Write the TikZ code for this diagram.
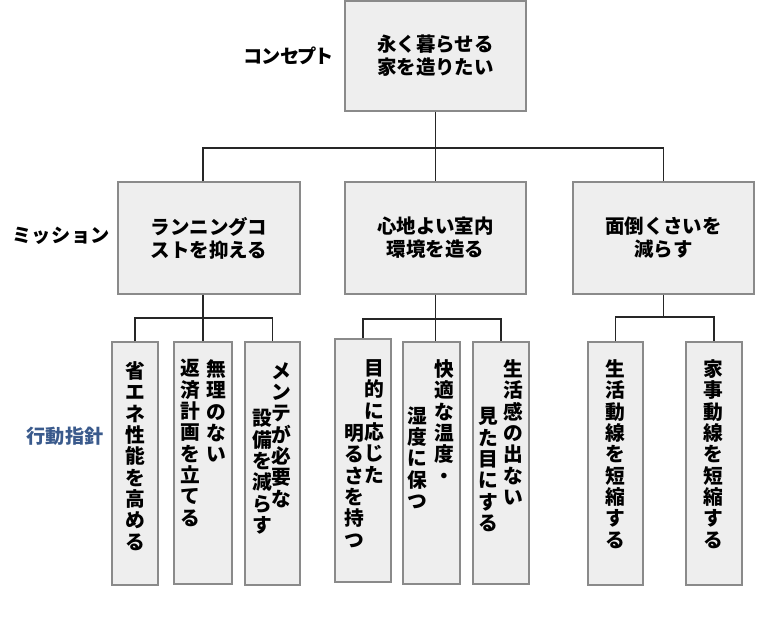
\documentclass[tikz,border=0pt]{standalone}
\usepackage{fontspec}
\setmainfont{Noto Sans CJK JP}
\definecolor{boxfill}{HTML}{EEEEEE}
\definecolor{boxline}{HTML}{8A8A8A}
\definecolor{connline}{HTML}{262626}
\definecolor{guideblue}{HTML}{3A5A8C}

% one vertical column of text, one character per row
\ExplSyntaxOn
\NewDocumentCommand\tatecol{m}{
  \vbox{\baselineskip=16pt \lineskiplimit=-20pt
    \tl_map_inline:nn {#1} {\hbox to 1em{\hss ##1\hss}}}
}
\ExplSyntaxOff

\tikzset{every picture/.style={line width=0.75pt}}
\tikzset{
  box/.style 2 args={draw=boxline, fill=boxfill, line width=1.1pt, inner sep=0pt,
    minimum width=#1*0.75pt, minimum height=#2*0.75pt, align=center,
    font=\bfseries\fontsize{14.6pt}{17.25pt}\selectfont},
  conn/.style={draw=connline, line width=1.1pt},
  tate/.style={anchor=north, inner sep=0pt, font=\bfseries\fontsize{14.8pt}{17pt}\selectfont},
  lvl/.style={inner sep=0pt, font=\bfseries\fontsize{14.4pt}{17pt}\selectfont\addfontfeatures{RawFeature=+palt}}
}

\begin{document}
\begin{tikzpicture}[x=0.75pt,y=0.75pt,yscale=-1,xscale=1]
\useasboundingbox (0,0) rectangle (779,642);

%Concept
\node [box={181}{110}] (top) at (435.5,56) {永く暮らせる\\家を造りたい};

%Missions
\node [box={182}{112}] (m1) at (209,238) {ランニングコ\\ストを抑える};
\node [box={181}{112}] (m2) at (435.5,238) {心地よい室内\\環境を造る};
\node [box={181}{112}] (m3) at (663.5,238) {面倒くさいを\\減らす};

%Action boxes
\node [box={46}{243}] (a1) at (135,463.5) {};
\node [box={58}{242}] (a2) at (203,463) {};
\node [box={55}{243}] (a3) at (272.5,463.5) {};
\node [box={56}{243}] (a4) at (363,460.5) {};
\node [box={57}{242}] (a5) at (431.5,463) {};
\node [box={56}{242}] (a6) at (501,463) {};
\node [box={55}{243}] (a7) at (615.5,463.5) {};
\node [box={56}{243}] (a8) at (714,463.5) {};

%Junctions
\coordinate (j0) at (435.5,148);
\coordinate (j1) at (203,318);
\coordinate (j2) at (435.5,319);
\coordinate (j3) at (663.5,317);

%Connectors
\draw [conn] (top.south) -- (m2.north);
\draw [conn] (j1 |- m1.north) |- (j0) -| (m3.north);
\draw [conn] (j1 |- m1.south) -- (a2.north);
\draw [conn] (a1.north) |- (j1) -| (a3.north);
\draw [conn] (m2.south) -- (m2.south |- a5.north);
\draw [conn] (a4.north) |- (j2) -| (a6.north);
\draw [conn] (m3.south) -- (j3);
\draw [conn] (a7.north) |- (j3) -| (a8.north);

% Text Node
\node [tate] (t1) at (135,361) {\tatecol{省エネ性能を高める}};
% Text Node
\node [tate] (t2r) at (216,359) {\tatecol{無理のない}};
\node [tate] (t2l) at (190,359) {\tatecol{返済計画を立てる}};
% Text Node
\node [tate] (t3r) at (281,362) {\tatecol{メンテが必要な}};
\node [tate] (t3l) at (262,409) {\tatecol{設備を減らす}};
% Text Node
\node [tate] (t4r) at (374,359) {\tatecol{目的に応じた}};
\node [tate] (t4l) at (354,424) {\tatecol{明るさを持つ}};
% Text Node
\node [tate] (t5r) at (444,359) {\tatecol{快適な温度・}};
\node [tate] (t5l) at (417,406) {\tatecol{湿度に保つ}};
% Text Node
\node [tate] (t6r) at (513,359) {\tatecol{生活感の出ない}};
\node [tate] (t6l) at (488,407) {\tatecol{見た目にする}};
% Text Node
\node [tate] (t7) at (615,359) {\tatecol{生活動線を短縮する}};
% Text Node
\node [tate] (t8) at (713,359) {\tatecol{家事動線を短縮する}};

% Level labels
\node [lvl] (lconcept) at (288,56) {コンセプト};
\node [lvl] (lmission) at (61,236) {\addfontfeatures{LetterSpace=15}ミッション};
\node [lvl, text=guideblue] (laction) at (65,436) {行動指針};

\end{tikzpicture}
\end{document}
